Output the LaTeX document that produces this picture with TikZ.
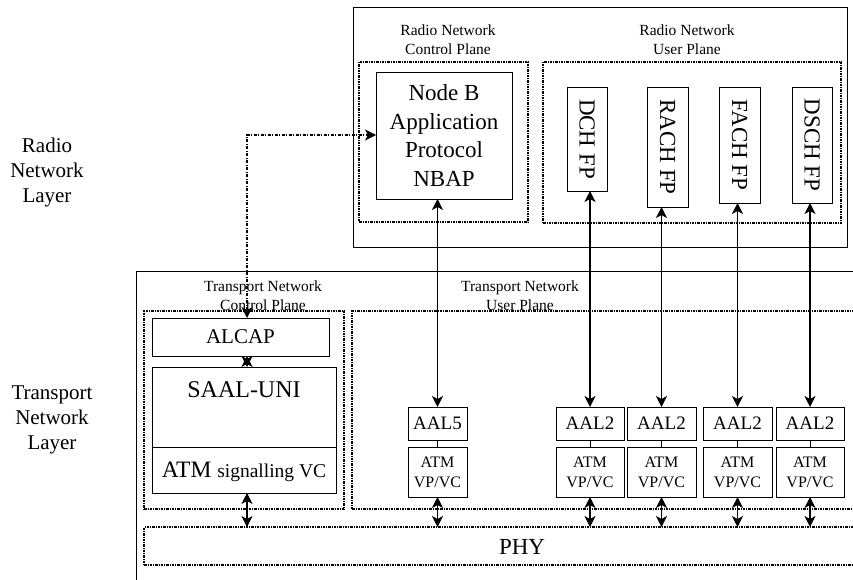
\documentclass[tikz,border=0pt]{standalone}
\usepackage{fontspec}
\setmainfont{Liberation Serif}
\usetikzlibrary{arrows.meta}
\begin{document}
\begin{tikzpicture}[x=1pt,y=-1pt,
  box/.style={draw,line width=0.9pt,inner sep=0pt,outer sep=0pt},
  dotbox/.style={draw,line width=1.2pt,dash pattern=on 2.5pt off 1pt on 1pt off 1pt,inner sep=0pt,outer sep=0pt},
  lbl/.style={align=center,font=\fontsize{15.5}{19}\selectfont,inner sep=0pt},
  layerlbl/.style={align=center,font=\fontsize{21}{25}\selectfont,inner sep=0pt},
  txt/.style={align=center,inner sep=0pt},
  arr/.style={line width=1.1pt,{Stealth[length=11pt,width=11pt,inset=3pt]}-{Stealth[length=11pt,width=11pt,inset=3pt]}},
  dd/.style={line width=1.3pt,dash pattern=on 3pt off 1.5pt on 1pt off 1.5pt,{Stealth[length=11pt,width=11pt,inset=3pt]}-{Stealth[length=11pt,width=11pt,inset=3pt]}},
  joinline/.style={line width=0.8pt}
]
\useasboundingbox (0,0) rectangle (853,580);
\clip (0,0) rectangle (853,580);

% layer labels
\node[layerlbl] (rnl) at (47,172) {Radio\\Network\\Layer};
\node[layerlbl] (tnl) at (52,420) {Transport\\Network\\Layer};

% radio network layer
\node[box,minimum width=494pt,minimum height=240pt] (radio) at (600,127) {};
\node[lbl] (rncpl) at (448,40) {Radio Network\\Control Plane};
\node[lbl] (rnupl) at (687,40) {Radio Network\\User Plane};
\node[dotbox,minimum width=169pt,minimum height=160pt] (rncp) at (443.5,142) {};
\node[dotbox,minimum width=298pt,minimum height=161pt] (rnup) at (692,142.5) {};
\node[box,minimum width=136pt,minimum height=127pt,txt,font=\fontsize{23}{28.5}\selectfont] (nbap) at (444,135.5) {Node B\\Application\\Protocol\\NBAP};

\node[box,minimum width=40pt,minimum height=104pt] (dch) at (587,139) {};
\node[box,minimum width=41pt,minimum height=120pt] (rach) at (667.5,147) {};
\node[box,minimum width=41pt,minimum height=116pt] (fach) at (739.5,145) {};
\node[box,minimum width=40pt,minimum height=116pt] (dsch) at (812,145) {};
\foreach \n/\t in {dch/DCH FP,rach/RACH FP,fach/FACH FP,dsch/DSCH FP}
  \node[rotate=-90,inner sep=0pt,font=\fontsize{23}{27}\selectfont] (\n t) at (\n) {\t};

% transport network layer
\node[box,minimum width=734pt,minimum height=329pt] (trans) at (503,435.5) {};
\node[lbl] (tncpl) at (263,296) {Transport Network\\Control Plane};
\node[lbl] (tnupl) at (520,296) {Transport Network\\User Plane};
\node[dotbox,minimum width=200pt,minimum height=198pt] (tncp) at (244,410) {};
\node[dotbox,minimum width=518pt,minimum height=198pt] (tnup) at (611,410) {};
\node[dotbox,minimum width=726pt,minimum height=38pt] (phy) at (507,546) {};
\node[txt,font=\fontsize{23}{27}\selectfont] (phyt) at (522,547) {PHY};

\node[box,minimum width=177pt,minimum height=38pt,font=\fontsize{21}{25}\selectfont] (alcap) at (240.5,337) {ALCAP};
\node[box,minimum width=184pt,minimum height=80pt] (saal) at (244,407) {};
\node[txt,font=\fontsize{24}{28}\selectfont] (saalt) at (244,390) {SAAL-UNI};
\node[box,minimum width=184pt,minimum height=46pt] (atmsig) at (244,470) {};
\node[txt] (atmsigt) at (244,472) {\fontsize{23.5}{28}\selectfont ATM \fontsize{19.5}{24}\selectfont signalling VC};

\node[box,minimum width=59pt,minimum height=33pt,font=\fontsize{19}{23}\selectfont] (aal5) at (437.5,423.5) {AAL5};
\node[box,minimum width=59pt,minimum height=50pt,txt,font=\fontsize{16}{20}\selectfont] (atm5) at (437.5,472) {ATM\\VP/VC};

\foreach \n/\x/\w in {a/590/68,b/661.5/69,c/737.5/69,d/810/68}{
  \node[box,minimum width=\w pt,minimum height=33pt,font=\fontsize{19}{23}\selectfont] (aal2\n) at (\x,423.5) {AAL2};
  \node[box,minimum width=\w pt,minimum height=50pt,txt,font=\fontsize{16}{20}\selectfont] (atm2\n) at (\x,472) {ATM\\VP/VC};
}

% connectors
\coordinate (cx) at (247,0);
\coordinate (corner) at (247,135);
\draw[dd] (cx |- alcap.north) -- (corner) -- (corner -| nbap.west);
\draw[arr] (cx |- alcap.south) -- (cx |- saal.north);
\draw[arr] (cx |- atmsig.south) -- (cx |- phy.north);

\draw[arr] (aal5.north |- nbap.south) -- (aal5.north);
\draw[joinline] (aal5.south) -- (atm5.north);
\draw[arr] (atm5.south) -- (atm5.south |- phy.north);

\draw[arr] (aal2a.north |- dch.south) -- (aal2a.north);
\draw[arr] (aal2b.north |- rach.south) -- (aal2b.north);
\draw[arr] (aal2c.north |- fach.south) -- (aal2c.north);
\draw[arr] (aal2d.north |- dsch.south) -- (aal2d.north);
\foreach \n in {a,b,c,d}{
  \draw[joinline] (aal2\n.south) -- (atm2\n.north);
  \draw[arr] (atm2\n.south) -- (atm2\n.south |- phy.north);
}
\end{tikzpicture}
\end{document}
